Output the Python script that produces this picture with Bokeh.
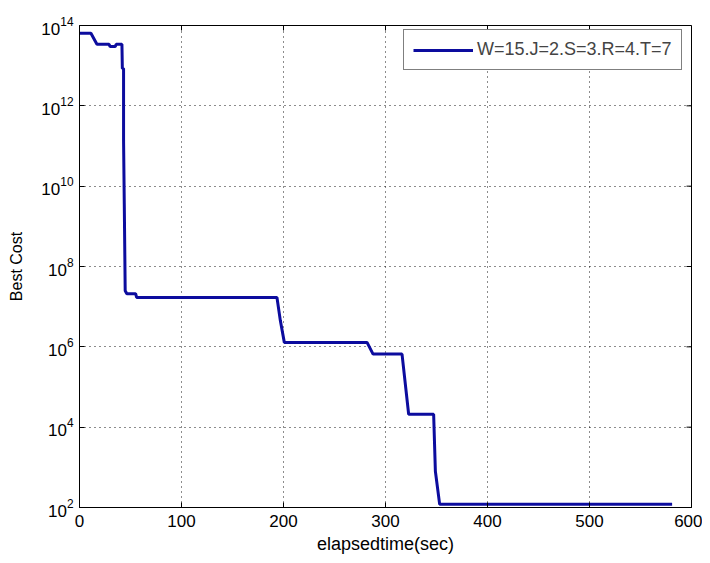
import math
from bokeh.plotting import figure
from bokeh.models import FixedTicker, Legend, LegendItem, Range1d
from bokeh.embed import file_html
from bokeh.resources import INLINE

# data (elapsed seconds, best cost)
elapsed = [0, 11.2, 17.1, 29, 30, 35, 36, 41.6, 42.0, 43.2, 43.2, 43.9, 44.8, 46.4,
           55, 56, 193.6, 196.9, 200.8, 281.9, 287.8, 316.2, 322.7, 347.2, 348.9,
           353.1, 581]
best_cost = [6.4e13, 6.4e13, 3.4e13, 3.4e13, 3.0e13, 3.0e13, 3.4e13, 3.4e13, 8.5e12,
             8.5e12, 1.4e11, 3.7e9, 2.5e7, 2.1e7, 2.1e7, 1.7e7, 1.7e7, 4.5e6, 1.29e6,
             1.29e6, 6.6e5, 6.6e5, 2.1e4, 2.1e4, 8.0e2, 1.2e2, 1.2e2]
series_label = "W=15.J=2.S=3.R=4.T=7"
x_ticks = [0, 100, 200, 300, 400, 500, 600]
y_ticks = [1e2, 1e4, 1e6, 1e8, 1e10, 1e12, 1e14]
x_min, x_max = 0, 600
y_min, y_max = 1e2, 1e14

FONT = "Liberation Sans"

p = figure(frame_width=612, frame_height=482, y_axis_type="log",
           x_range=Range1d(x_min, x_max), y_range=Range1d(y_min, y_max),
           output_backend="svg", toolbar_location=None,
           min_border_left=79, min_border_right=11, min_border_top=25, min_border_bottom=50)
p.background_fill_color = "white"
p.border_fill_color = "white"
p.outline_line_color = "black"
p.outline_line_width = 1

# grid
for g in (p.xgrid[0], p.ygrid[0]):
    g.grid_line_color = "black"
    g.grid_line_dash = "1 4"
    g.grid_line_width = 1
    g.grid_line_alpha = 0.9
p.xgrid[0].ticker = FixedTicker(ticks=x_ticks)
p.ygrid[0].ticker = FixedTicker(ticks=y_ticks)

# inward tick marks on top and right edges (box axes)
p.ray(x=x_ticks, y=[y_max] * len(x_ticks), length=5, angle=-math.pi / 2,
      length_units="screen", line_color="black", line_width=1)
p.ray(x=[x_max] * len(y_ticks), y=y_ticks, length=5, angle=math.pi,
      length_units="screen", line_color="black", line_width=1)

r = p.line(elapsed, best_cost, line_color="#0c0c9e", line_width=3)

for ax in (p.xaxis[0], p.yaxis[0]):
    ax.major_tick_in = 5
    ax.major_tick_out = 0
    ax.minor_tick_line_color = None
    ax.axis_line_color = "black"
    ax.major_tick_line_color = "black"
    ax.major_label_text_font = FONT
    ax.major_label_text_font_size = "17px"
    ax.major_label_text_color = "black"
    ax.axis_label_text_font = FONT
    ax.axis_label_text_font_style = "normal"
    ax.axis_label_text_color = "black"

p.xaxis[0].axis_label_text_font_size = "18px"
p.yaxis[0].axis_label_text_font_size = "16px"
p.xaxis[0].ticker = FixedTicker(ticks=x_ticks)
p.yaxis[0].ticker = FixedTicker(ticks=y_ticks)
p.xaxis[0].axis_label = "elapsedtime(sec)"
p.yaxis[0].axis_label = "Best Cost"
p.xaxis[0].major_label_standoff = 7
p.xaxis[0].axis_label_standoff = 4
p.yaxis[0].major_label_standoff = 6
p.yaxis[0].axis_label_standoff = 13

legend = Legend(items=[LegendItem(label=series_label, renderers=[r])],
                location=(324, 437), margin=0, padding=9, spacing=0,
                glyph_width=60, glyph_height=18, label_standoff=4, label_height=18,
                label_text_font=FONT, label_text_font_size="18px",
                border_line_color="black", border_line_width=1,
                background_fill_color="white", background_fill_alpha=1)
p.add_layout(legend)

open("out.html", "w").write(file_html(p, INLINE))
